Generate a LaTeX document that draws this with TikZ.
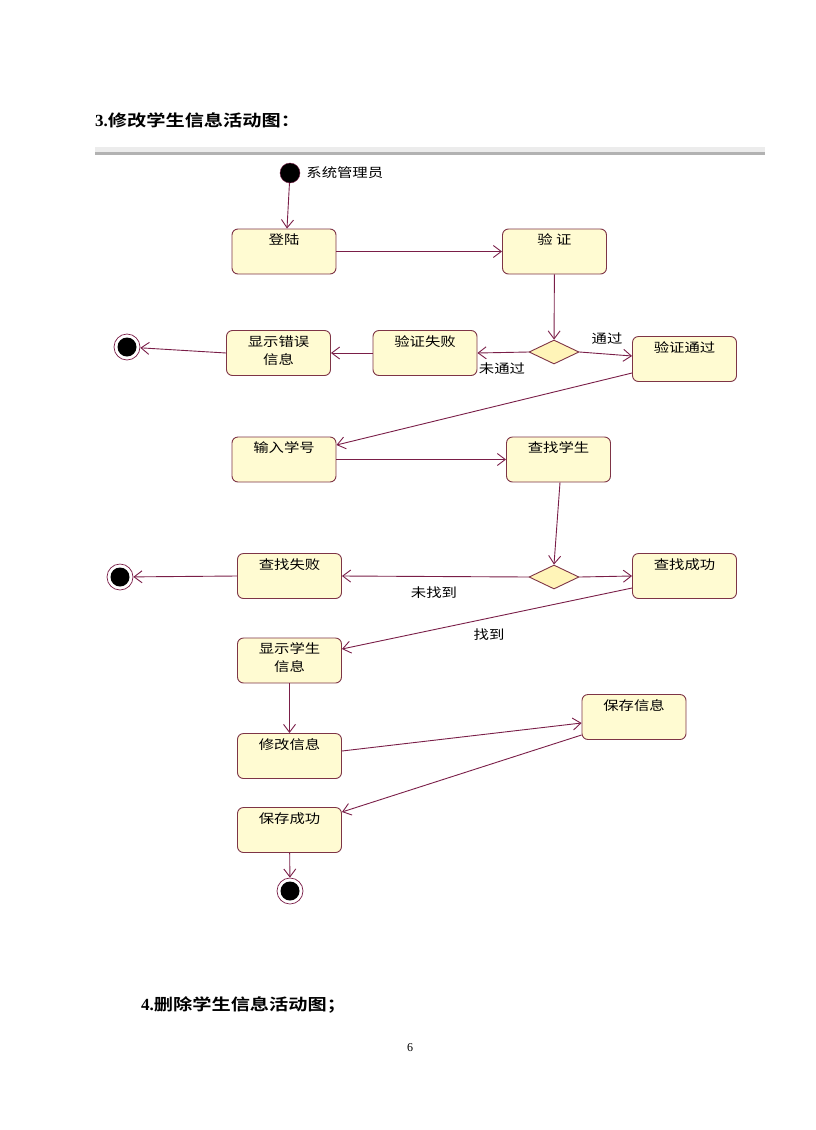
\documentclass[tikz,border=0pt]{standalone}
\usepackage{fontspec}
\setmainfont{Liberation Serif}
\newfontfamily\cjk[FakeStretch=1.2]{Noto Sans CJK SC}
\newfontfamily\cjkb[FakeStretch=1.2]{Noto Sans CJK SC Bold}
\usepackage{tikz}
\usetikzlibrary{shapes.geometric,positioning}
\usetikzlibrary{arrows.meta}
\definecolor{umlline}{HTML}{7A1E48}
\definecolor{umlborder}{HTML}{7E3446}
\definecolor{umlfill}{HTML}{FFFBD2}
\definecolor{umldec}{HTML}{FFF4B8}
\tikzstyle{arrow} = [draw=umlline,line width=0.9pt,-{Straight Barb[length=8pt,width=12pt]}]
\newcommand{\twolines}[2]{\begin{tabular}[t]{@{}c@{}}#1\\#2\end{tabular}}

\begin{document}
\begin{tikzpicture}[x=1pt,y=-1pt,
	activity/.style={rectangle, rounded corners=6pt, draw=umlborder, line width=0.9pt, fill=umlfill, minimum width=104pt, inner xsep=2pt, inner ysep=0pt, text height=15.5pt, text depth=29.5pt, align=center, font=\cjk\fontsize{12.8}{18}\selectfont},
	decision/.style={diamond, draw=umlborder, line width=0.9pt, fill=umldec, minimum width=50pt, minimum height=24pt, inner sep=0pt},
	startdot/.style={circle, fill=black, draw=umlline, minimum size=20pt, inner sep=0pt},
	enddot/.style={circle, draw=umlline, fill=white, line width=0.7pt, minimum size=26pt, inner sep=0pt, path picture={\fill[black] (path picture bounding box.center) circle (9.5pt);}},
	guard/.style={inner sep=1pt, font=\cjk\fontsize{12.8}{15}\selectfont}]
	\useasboundingbox (0,0) rectangle (815,1130);
	
	% TITLES
	
	\node [anchor=west, inner sep=0pt] (title3) at (95,120) {\fontsize{17}{18}\selectfont\textbf{3.}\cjkb\fontsize{16}{18}\selectfont 修改学生信息活动图：};
	\node [anchor=west, inner sep=0pt] (title4) at (141,1005) {\fontsize{17}{18}\selectfont\textbf{4.}\cjkb\fontsize{16}{18}\selectfont 删除学生信息活动图；};
	\node [inner sep=0pt] (pagenum) at (410,1048) {\fontsize{12}{14}\selectfont 6};
	\fill [gray!15] (95,147) rectangle (765,152);
	\fill [gray!60] (95,152) rectangle (765,155);
	
	% ACTIVITIES
	
	\node [startdot] (start) at (290,173) {};
	\node [guard, right=5pt of start] (admin) {系统管理员};
	
	\node [activity] (login) at (284,251.5) {登陆};
	\node [activity] (verify) at (554.5,251.5) {验 证};
	\node [decision] (check) at (554,352) {};
	\node [activity] (pass) at (684.5,359) {验证通过};
	\node [activity] (fail) at (425,353) {验证失败};
	\node [activity] (showerr) at (278.5,353) {\twolines{显示错误}{信息}};
	\node [enddot] (stopa) at (127,347) {};
	
	\node [activity] (inputid) at (284,459.5) {输入学号};
	\node [activity] (find) at (558.5,459.5) {查找学生};
	\node [decision] (found) at (554,577) {};
	\node [activity] (findok) at (684.5,576) {查找成功};
	\node [activity] (findfail) at (289.5,576) {查找失败};
	\node [enddot] (stopb) at (120,577) {};
	
	\node [activity] (showstu) at (289.5,660.5) {\twolines{显示学生}{信息}};
	\node [activity] (modify) at (289.5,756) {修改信息};
	\node [activity] (save) at (634,717) {保存信息};
	\node [activity] (saveok) at (289.5,830) {保存成功};
	\node [enddot] (stopc) at (290,891) {};
	
	% GUARDS
	
	\node [guard] (gpass) at (607,339) {通过};
	\node [guard] (gnopass) at (502,369) {未通过};
	\node [guard] (gnotfound) at (434,593) {未找到};
	\node [guard] (gfound) at (489,635) {找到};
	
	% TRANSITIONS
	
	\draw [arrow] (start) -- ([xshift=3pt]login.north);
	\draw [arrow] (login) -- (verify);
	\draw [arrow] (verify) -- (check);
	\draw [arrow] (check.east) -- ([yshift=3pt]pass.west);
	\draw [arrow] (check.west) -- (fail.east);
	\draw [arrow] (fail) -- (showerr);
	\draw [arrow] (showerr.west) -- (stopa);
	\draw [arrow] ([yshift=-14pt]pass.west) -- ([yshift=14.5pt]inputid.east);
	\draw [arrow] (inputid) -- (find);
	\draw [arrow] ([xshift=1.5pt]find.south) -- (found.north);
	\draw [arrow] (found.east) -- (findok.west);
	\draw [arrow] (found.west) -- (findfail.east);
	\draw [arrow] (findfail.west) -- (stopb);
	\draw [arrow] ([yshift=-12pt]findok.west) -- ([yshift=11.5pt]showstu.east);
	\draw [arrow] (showstu) -- (modify);
	\draw [arrow] ([yshift=5pt]modify.east) -- ([yshift=-6pt]save.west);
	\draw [arrow] ([yshift=-18pt]save.west) -- ([yshift=18pt]saveok.east);
	\draw [arrow] (saveok) -- (stopc);
	
\end{tikzpicture}
\end{document}
